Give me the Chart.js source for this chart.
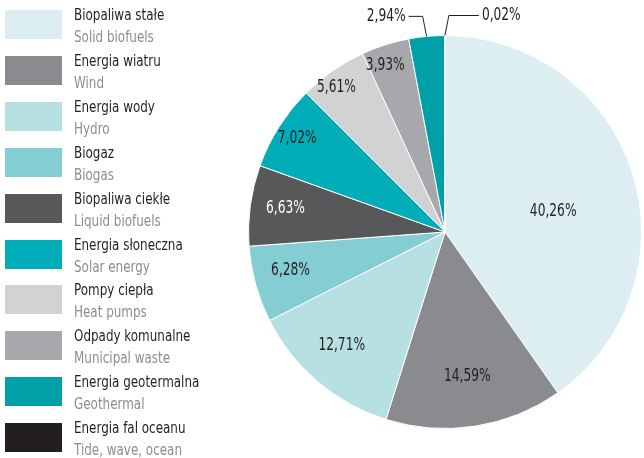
<!DOCTYPE html>
<html>
<head>
<meta charset="utf-8">
<script src="https://cdn.jsdelivr.net/npm/chart.js@4"></script>
<style>
  html, body { margin: 0; padding: 0; background: #fff; }
  #wrap { position: relative; width: 644px; height: 458px; }
  #pie { position: absolute; left: 0; top: 0; }
  #legend { position: absolute; left: 0; top: 0; font-family: "Liberation Sans Narrow", "DejaVu Sans Condensed", "Arial Narrow", sans-serif; }
  .item { position: absolute; left: 5px; height: 46px; width: 240px; }
  .sw { position: absolute; left: 0; top: 0; width: 57px; height: 29px; }
  .pl, .en { position: absolute; left: 69px; font-size: 16px; line-height: 20px; white-space: nowrap; transform: scaleX(0.83); transform-origin: 0 50%; }
  .pl { top: -5px; color: #231f20; }
  .en { top: 17px; color: #8c8d90; }
</style>
</head>
<body>
<div id="wrap">
  <canvas id="pie" width="644" height="458"></canvas>
  <div id="legend"></div>
</div>
<script>
// categories (Polish / English)
const namesPl = ['Biopaliwa stałe', 'Energia wiatru', 'Energia wody', 'Biogaz', 'Biopaliwa ciekłe',
  'Energia słoneczna', 'Pompy ciepła', 'Odpady komunalne', 'Energia geotermalna', 'Energia fal oceanu'];
const namesEn = ['Solid biofuels', 'Wind', 'Hydro', 'Biogas', 'Liquid biofuels',
  'Solar energy', 'Heat pumps', 'Municipal waste', 'Geothermal', 'Tide, wave, ocean'];
// shares in %
const shares = [40.26, 14.59, 12.71, 6.28, 6.63, 7.02, 5.61, 3.93, 2.94, 0.02];

const colors = ['#ddeef2', '#8a8b8f', '#b7e0e3', '#84ced3', '#58585b',
  '#00adb8', '#d1d2d4', '#a7a8ab', '#00a0a9', '#231f20'];
const labelColors = ['#231f20', '#231f20', '#231f20', '#231f20', '#ffffff',
  '#231f20', '#231f20', '#231f20', '#231f20', '#231f20'];
// label placement: [angle offset (deg), radius fraction] or 'out' with leader line
const labelPlace = [[7, 0.56], [0, 0.745], [2, 0.78], [1.5, 0.81], [0.4, 0.82],
  [0, 0.89], [-2, 0.92], [-2, 0.9], 'outL', 'outR'];

const FONT = '"Liberation Sans Narrow", "DejaVu Sans Condensed", "Arial Narrow", sans-serif';

// legend
const legend = document.getElementById('legend');
namesPl.forEach((n, i) => {
  const d = document.createElement('div');
  d.className = 'item';
  d.style.top = (10 + i * 45.9) + 'px';
  d.innerHTML = '<div class="sw" style="background:' + colors[i] + '"></div>' +
    '<div class="pl">' + n + '</div><div class="en">' + namesEn[i] + '</div>';
  legend.appendChild(d);
});

const fmt = v => v.toFixed(2).replace('.', ',') + '%';

function squeezedText(ctx, txt, x, y) {
  ctx.save();
  ctx.translate(x, y);
  ctx.scale(0.8, 1);
  ctx.fillText(txt, 0, 0);
  ctx.restore();
}

const pieLabels = {
  id: 'pieLabels',
  afterDatasetsDraw(chart) {
    const ctx = chart.ctx;
    const arcs = chart.getDatasetMeta(0).data;
    ctx.save();
    ctx.font = '17px ' + FONT;
    ctx.textBaseline = 'middle';
    arcs.forEach((arc, i) => {
      const p = arc.getProps(['x', 'y', 'startAngle', 'endAngle', 'outerRadius']);
      const mid = (p.startAngle + p.endAngle) / 2;
      const place = labelPlace[i];
      const txt = fmt(shares[i]);
      if (Array.isArray(place)) {
        const a = mid + place[0] * Math.PI / 180;
        const r = p.outerRadius * place[1];
        ctx.fillStyle = labelColors[i];
        ctx.textAlign = 'center';
        squeezedText(ctx, txt, p.x + Math.cos(a) * r, p.y + Math.sin(a) * r);
      } else {
        const sx = p.x + Math.cos(mid) * p.outerRadius;
        const sy = p.y + Math.sin(mid) * p.outerRadius;
        const dir = place === 'outL' ? -1 : 1;
        const kx = sx + dir * 4, ky = sy - 20;
        const ex = kx + dir * (dir < 0 ? 14 : 30);
        ctx.strokeStyle = '#231f20';
        ctx.lineWidth = 1;
        ctx.beginPath();
        ctx.moveTo(sx, sy);
        ctx.lineTo(kx, ky);
        ctx.lineTo(ex, ky);
        ctx.stroke();
        ctx.fillStyle = labelColors[i];
        ctx.textAlign = dir < 0 ? 'right' : 'left';
        squeezedText(ctx, txt, ex + dir * 3, ky);
      }
    });
    ctx.restore();
  }
};

new Chart(document.getElementById('pie'), {
  type: 'pie',
  data: {
    labels: namesEn,
    datasets: [{
      data: shares,
      backgroundColor: colors,
      borderColor: '#ffffff',
      borderWidth: 1
    }]
  },
  options: {
    responsive: false,
    animation: false,
    layout: { padding: { left: 248, right: 2, top: 35, bottom: 29 } },
    plugins: { legend: { display: false }, tooltip: { enabled: false } }
  },
  plugins: [pieLabels]
});
</script>
</body>
</html>
